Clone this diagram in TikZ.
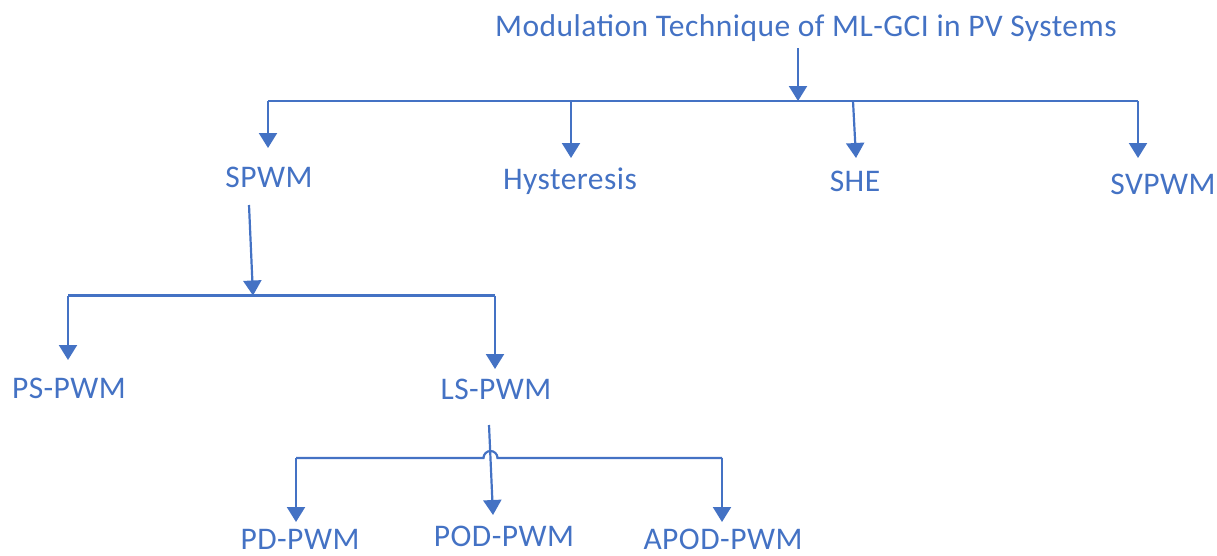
\documentclass[tikz,border=0pt]{standalone}
\usepackage{fontspec}
\setmainfont{Carlito}[LetterSpace=1.5]
\usetikzlibrary{arrows.meta}
\definecolor{wordblue}{HTML}{4472C4}
\begin{document}
\begin{tikzpicture}[x=1pt,y=-1pt,
  lbl/.style={text=wordblue,font=\fontsize{31.5}{36}\selectfont,anchor=base,inner sep=0pt},
  conn/.style={draw=wordblue,line width=2.2pt},
  arr/.style={conn,-{Triangle[width=18pt,length=15pt]}}]
\useasboundingbox (0,0) rectangle (1217,555);
% labels
\node[lbl] (title) at (806,36) {Modulation Technique of ML-GCI in PV Systems};
\node[lbl] (spwm) at (269,187) {SPWM};
\node[lbl] (hyst) at (570,189) {Hysteresis};
\node[lbl] (she) at (855,191) {SHE};
\node[lbl] (svpwm) at (1163,194) {SVPWM};
\node[lbl] (ps) at (69,398) {PS-PWM};
\node[lbl] (ls) at (496,399) {LS-PWM};
\node[lbl] (pd) at (300,549) {PD-PWM};
\node[lbl] (pod) at (504,546) {POD-PWM};
\node[lbl] (apod) at (723,549) {APOD-PWM};
% level 1
\coordinate (t0) at (798,48);
\coordinate (b1m) at (798,101);
\coordinate (b1a) at (268,101);
\coordinate (b1b) at (571,101);
\coordinate (b1c) at (853,101);
\coordinate (b1d) at (1138,101);
\coordinate (tipspwm) at (268,148);
\coordinate (tiphyst) at (571,158);
\coordinate (tipshe) at (856,158);
\coordinate (tipsvpwm) at (1138,158);
\draw[arr] (t0) -- (b1m);
\draw[conn] (b1a) -- (b1d);
\draw[arr] (b1a) -- (tipspwm);
\draw[arr] (b1b) -- (tiphyst);
\draw[arr] (b1c) -- (tipshe);
\draw[arr] (b1d) -- (tipsvpwm);
% level 2
\coordinate (s0) at (249,205);
\coordinate (b2m) at (253,295.5);
\coordinate (b2a) at (68,295.5);
\coordinate (b2b) at (495,295.5);
\coordinate (tipps) at (68,360);
\coordinate (tipls) at (495,369);
\draw[arr] (s0) -- (b2m);
\draw[conn] (b2a) -- (b2b);
\draw[arr] (b2a) -- (tipps);
\draw[arr] (b2b) -- (tipls);
% level 3
\coordinate (l0) at (489,425);
\coordinate (tippod) at (493,515);
\coordinate (b3a) at (296,458);
\coordinate (b3h) at (483.5,458);
\coordinate (b3b) at (722,458);
\coordinate (tippd) at (296,522);
\coordinate (tipapod) at (722,522);
\draw[arr] (l0) -- (tippod);
\draw[conn] (b3a) -- (b3h) arc[start angle=180,end angle=360,radius=7] -- (b3b);
\draw[arr] (b3a) -- (tippd);
\draw[arr] (b3b) -- (tipapod);
\end{tikzpicture}
\end{document}
